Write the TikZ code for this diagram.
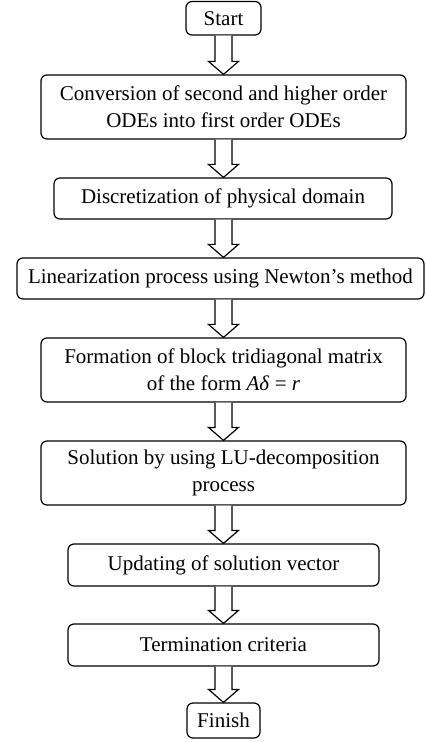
\documentclass[tikz,border=0pt]{standalone}
\usepackage{fontspec}
\setmainfont{Liberation Serif}
\usetikzlibrary{calc}
\tikzset{
  stepbox/.style={draw, rounded corners=3pt, line width=0.6pt, align=center, inner sep=2pt, font=\fontsize{10.5}{13.5}\selectfont},
  bigarrow/.style={draw, line width=0.6pt, fill=white},
}
% hollow block arrow from one box down to the next
\newcommand{\flowarrow}[2]{%
  \draw[bigarrow] let \p1=(#1.south), \p2=(#2.north), \p3=(start.south) in
    (\x3-4.25pt,\y1) -- (\x3-4.25pt,\y2+6.5pt) -- (\x3-7.5pt,\y2+6.5pt) -- (\x3,\y2)
    -- (\x3+7.5pt,\y2+6.5pt) -- (\x3+4.25pt,\y2+6.5pt) -- (\x3+4.25pt,\y1);}
\begin{document}
\begin{tikzpicture}[x=0.5pt, y=-0.5pt]
	\useasboundingbox (0,0) rectangle (425,742);
	\node[stepbox, minimum width=37.5pt, minimum height=16.75pt] (start) at (223.5,18.25) {Start};
	\node[stepbox, minimum width=182.5pt, minimum height=32pt] (conv) at (223.5,107) {Conversion of second and higher order\\ODEs into first order ODEs};
	\node[stepbox, minimum width=169pt, minimum height=20.5pt] (disc) at (223,198.5) {Discretization of physical domain};
	\node[stepbox, minimum width=203.5pt, minimum height=20.5pt] (lin) at (220.5,278.5) {Linearization process using Newton’s method};
	\node[stepbox, minimum width=182.5pt, minimum height=32pt] (form) at (223.5,370) {Formation of block tridiagonal matrix\\of the form \textit{Aδ} = \textit{r}};
	\node[stepbox, minimum width=182.5pt, minimum height=32pt] (solve) at (223.5,473) {Solution by using LU-decomposition\\process};
	\node[stepbox, minimum width=155.5pt, minimum height=21pt] (update) at (223.5,565) {Updating of solution vector};
	\node[stepbox, minimum width=155.5pt, minimum height=21pt] (term) at (223.5,645) {Termination criteria};
	\node[stepbox, minimum width=36.5pt, minimum height=17.5pt] (finish) at (223.5,720.5) {Finish};
	\foreach \a/\b in {start/conv, conv/disc, disc/lin, lin/form, form/solve, solve/update, update/term, term/finish}
		\flowarrow{\a}{\b};
\end{tikzpicture}
\end{document}
